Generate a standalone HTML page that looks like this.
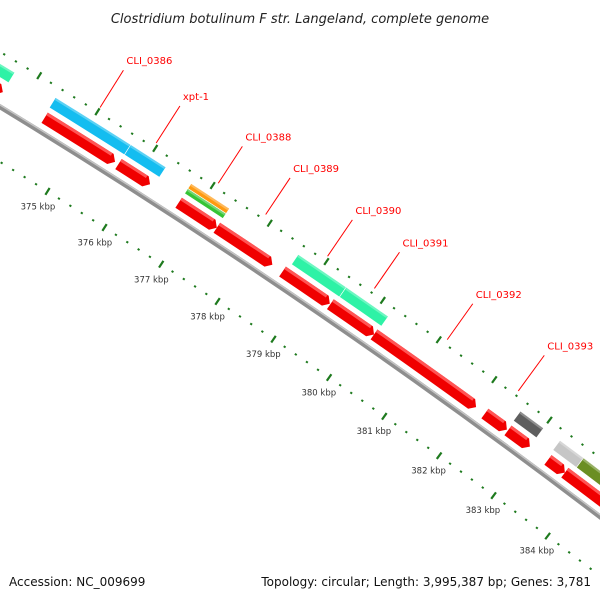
<!DOCTYPE html>
<html><head><meta charset="utf-8"><style>
html,body{margin:0;padding:0;background:#fff;width:600px;height:600px;overflow:hidden;}
svg{display:block;font-family:"DejaVu Sans","Liberation Sans",sans-serif;overflow:hidden;}
</style></head><body>
<svg id="map" width="600" height="600" viewBox="0 0 600 600">
<rect width="600" height="600" fill="#fff"/>
<text x="300" y="23" text-anchor="middle" font-size="13" font-style="italic" fill="#222">Clostridium botulinum F str. Langeland, complete genome</text>
<g id="ticks"></g>
<g id="backbone"></g>
<g id="features"></g>
<g id="labels"></g>
<rect x="0" y="570" width="600" height="30" fill="#fff"/>
<text x="9" y="586" font-size="12" fill="#111">Accession: NC_009699</text>
<text x="591" y="586" text-anchor="end" font-size="12" fill="#111">Topology: circular; Length: 3,995,387 bp; Genes: 3,781</text>
</svg>
<script>
// data (kbp)
const cdsStart = [373.0, 374.39, 375.67, 376.72, 377.39, 378.55, 379.40, 380.18, 382.18, 382.60, 383.33, 383.64];
const cdsEnd   = [373.67, 375.61, 376.22, 377.39, 378.37, 379.39, 380.18, 382.02, 382.58, 383.00, 383.64, 386.0];
const cogStart = [372.5, 374.37, 375.67, 376.72, 376.72, 378.60, 379.45, 382.58, 383.30, 383.73];
const cogEnd   = [373.67, 375.67, 376.28, 377.39, 377.39, 379.45, 380.20, 383.00, 383.73, 386.0];
const cogColor = ["#2ef2a6", "#14bdf0", "#14bdf0", "#35c435", "#ff9a10", "#2ef2a6", "#2ef2a6", "#5e5e5e", "#c6c6c6", "#6b8e23"];
const cogRow   = [0, 0, 0, 1, 2, 0, 0, 0, 0, 0];
const labelNames = ["CLI_0386", "xpt-1", "CLI_0388", "CLI_0389", "CLI_0390", "CLI_0391", "CLI_0392", "CLI_0393"];
const labelPos   = [375.0, 375.97, 377.05, 377.88, 378.97, 379.80, 381.10, 382.38];
const tickLabels = [375, 376, 377, 378, 379, 380, 381, 382, 383, 384];

const CX = -3649, CY = 6091, R = 7009;
const NS = "http://www.w3.org/2000/svg";
function ang(k){ return (-57.93 + (k - 375) * 0.5556) * Math.PI / 180; }
function pt(k, r){ const a = ang(k); return [CX + r * Math.cos(a), CY + r * Math.sin(a)]; }
function P(p){ return p[0].toFixed(2) + " " + p[1].toFixed(2); }
function mk(tag, parent){ const e = document.createElementNS(NS, tag); document.getElementById(parent).appendChild(e); return e; }
function band(k1, k2, r1, r2, arrow){
  const h = 0.08;
  if (!arrow) {
    return "M" + P(pt(k1, r2)) + " A" + r2 + " " + r2 + " 0 0 1 " + P(pt(k2, r2)) +
      " L" + P(pt(k2, r1)) + " A" + r1 + " " + r1 + " 0 0 0 " + P(pt(k1, r1)) + "Z";
  }
  const kb = Math.max(k1, k2 - h);
  return "M" + P(pt(k1, r2)) + " A" + r2 + " " + r2 + " 0 0 1 " + P(pt(kb, r2)) +
    " L" + P(pt(k2, (r1 + r2) / 2)) + " L" + P(pt(kb, r1)) + " A" + r1 + " " + r1 + " 0 0 0 " + P(pt(k1, r1)) + "Z";
}

// ticks
for (let i = 0; i <= 72; i++) {
  const k = 372 + i * 0.2;
  const major = Math.abs(k - Math.round(k)) < 0.01;
  [R - 47, R + 47].forEach(function(rr){
    const len = major ? 4 : 1;
    const a = pt(k, rr - len), b = pt(k, rr + len);
    if (a[1] > 598 || b[1] > 598) return;
    const l = mk("line", "ticks");
    l.setAttribute("x1", a[0]); l.setAttribute("y1", a[1]);
    l.setAttribute("x2", b[0]); l.setAttribute("y2", b[1]);
    l.setAttribute("stroke", "#1e7a1e"); l.setAttribute("stroke-width", "2.2");
    
    
  });
}
tickLabels.forEach(function(k){
  const p = pt(k, R - 65);
  const t = mk("text", "ticks");
  t.setAttribute("x", p[0]); t.setAttribute("y", p[1] + 3);
  t.setAttribute("text-anchor", "middle"); t.setAttribute("font-size", "8.5"); t.setAttribute("fill", "#333");
  t.textContent = k + " kbp";
  
  
});

// backbone
(function(){
  const b = mk("path", "backbone");
  b.setAttribute("d", "M" + P(pt(371, R)) + " A" + R + " " + R + " 0 0 1 " + P(pt(387, R)));
  b.setAttribute("fill", "none"); b.setAttribute("stroke", "#8e8e8e"); b.setAttribute("stroke-width", "5");
  
  
  const h = mk("path", "backbone");
  const r2 = R + 1.6;
  h.setAttribute("d", "M" + P(pt(371, r2)) + " A" + r2 + " " + r2 + " 0 0 1 " + P(pt(387, r2)));
  h.setAttribute("fill", "none"); h.setAttribute("stroke", "#c4c4c4"); h.setAttribute("stroke-width", "1.5");
  
  
})();

// small reverse feature
(function(){
  const s = mk("path", "features");
  s.setAttribute("d", band(373.55, 373.7, R - 11, R - 7, false));
  s.setAttribute("fill", "#3344ff");
  
  
})();

// CDS (red arrows)
for (let i = 0; i < cdsStart.length; i++) {
  const p = mk("path", "features");
  p.setAttribute("d", band(cdsStart[i], cdsEnd[i], R + 8, R + 20, true));
  p.setAttribute("fill", "#f00000");
  
  
  const hl = mk("path", "features");
  hl.setAttribute("d", band(cdsStart[i], cdsEnd[i] - 0.1, R + 17, R + 20, false));
  hl.setAttribute("fill", "#ff5555");
  
  
}
// COG features
for (let i = 0; i < cogStart.length; i++) {
  let r1 = R + 25, r2 = R + 37;
  if (cogRow[i] === 1) { r1 = R + 25; r2 = R + 31; }
  if (cogRow[i] === 2) { r1 = R + 31; r2 = R + 37; }
  const p = mk("path", "features");
  p.setAttribute("d", band(cogStart[i], cogEnd[i], r1, r2, false));
  p.setAttribute("fill", cogColor[i]);
  p.setAttribute("stroke", "#fff"); p.setAttribute("stroke-width", "0.6");
  
  
  const hl = mk("path", "features");
  hl.setAttribute("d", band(cogStart[i] + 0.01, cogEnd[i] - 0.01, r2 - 2.5, r2, false));
  hl.setAttribute("fill", "#fff"); hl.setAttribute("fill-opacity", "0.3");
  
  
}

// labels
for (let i = 0; i < labelNames.length; i++) {
  const a = pt(labelPos[i], R + 52), b = pt(labelPos[i], R + 96);
  const l = mk("line", "labels");
  l.setAttribute("x1", a[0]); l.setAttribute("y1", a[1]);
  l.setAttribute("x2", b[0]); l.setAttribute("y2", b[1]);
  l.setAttribute("stroke", "#ff0000"); l.setAttribute("stroke-width", "1");
  
  
  const t = mk("text", "labels");
  t.setAttribute("x", b[0] + 3); t.setAttribute("y", b[1] - 6);
  t.setAttribute("font-size", "10"); t.setAttribute("fill", "#ff0000");
  t.textContent = labelNames[i];
  
  
}
</script>
</body></html>
